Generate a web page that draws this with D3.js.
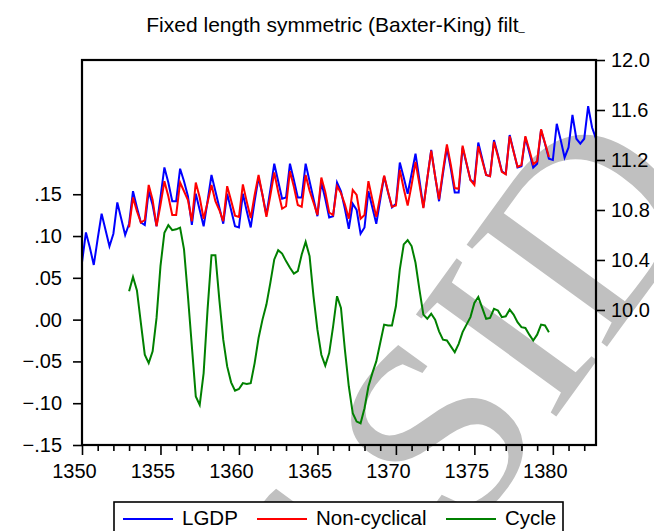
<!DOCTYPE html>
<html><head><meta charset="utf-8">
<script src="https://cdn.jsdelivr.net/npm/d3@7"></script>
<style>
body{margin:0;background:#fff}
svg text{font-family:"Liberation Sans",Arial,Helvetica,sans-serif}
</style>
</head><body>
<svg id="chart" width="654" height="531"></svg>
<script>
// ---------- data ----------
const firstYear = 1350;          // first observation 1350Q1
const periodsPerYear = 4;        // quarterly
const filterStartIndex = 12;     // filtered series start at 1353Q1
const titleText = "Fixed length symmetric (Baxter-King) filt";
const seriesNames = ["LGDP", "Non-cyclical", "Cycle"];

const lgdp = [
 10.38,10.62,10.50,10.36, 10.57,10.77,10.64,10.51, 10.61,10.86,10.73,10.60,
 10.69,10.95,10.82,10.70, 10.68,10.95,10.84,10.67, 10.90,11.14,11.02,10.87,
 10.87,11.13,11.03,10.91, 10.68,10.93,10.80,10.67, 10.87,11.08,10.95,10.82,
 10.69,10.93,10.80,10.67, 10.66,10.93,10.79,10.66, 10.87,11.06,10.92,10.76,
 10.96,11.17,11.03,10.89, 10.90,11.17,11.04,10.90, 10.90,11.17,11.03,10.89,
 10.75,11.02,10.89,10.74, 10.75,11.02,10.95,10.81, 10.65,10.85,10.80,10.61,
 10.66,10.95,10.82,10.69, 10.88,11.07,10.94,10.82, 10.85,11.18,11.06,10.93,
 11.09,11.25,11.04,10.82, 11.05,11.28,11.07,10.87, 11.09,11.30,11.13,10.94,
 10.94,11.30,11.17,11.04, 11.02,11.34,11.21,11.08, 11.07,11.36,11.24,11.11,
 11.09,11.40,11.27,11.14, 11.15,11.38,11.26,11.14, 11.17,11.44,11.33,11.21,
 11.20,11.49,11.36,11.22, 11.30,11.56,11.37,11.33, 11.37,11.63,11.46,11.37
];

const nonCyclical = [
 10.66,10.90,10.79,10.70, 10.72,11.00,10.88,10.67, 10.84,11.03,10.91,10.76,
 10.76,11.02,10.95,10.88, 10.71,11.02,10.90,10.73, 10.86,11.00,10.87,10.80,
 10.71,10.99,10.875,10.755, 10.745,11.005,10.865,10.735, 10.92,11.08,10.92,10.745,
 10.915,11.10,10.945,10.81, 10.83,11.11,10.985,10.84, 10.825,11.08,10.955,10.86,
 10.76,11.06,10.945,10.78, 10.76,10.99,10.935,10.845, 10.73,10.96,10.92,10.73,
 10.76,11.03,10.885,10.745, 10.91,11.075,10.945,10.825, 10.835,11.12,10.97,10.835,
 11.00,11.185,11.005,10.815, 11.05,11.275,11.07,10.885, 11.115,11.325,11.16,10.975,
 10.97,11.315,11.175,11.04, 11.00,11.31,11.195,11.08, 11.07,11.345,11.23,11.105,
 11.085,11.39,11.265,11.145, 11.16,11.39,11.28,11.165, 11.19,11.445,11.335,11.225
];

const cycle = [
 0.034,0.051,0.035,-0.004, -0.042,-0.052,-0.038,0.002, 0.064,0.104,0.113,0.107,
 0.108,0.110,0.084,0.028, -0.032,-0.092,-0.102,-0.064, 0.012,0.077,0.077,0.024,
 -0.024,-0.056,-0.075,-0.085, -0.083,-0.076,-0.077,-0.076, -0.052,-0.022,0.000,0.018,
 0.044,0.072,0.083,0.079, 0.070,0.062,0.055,0.058, 0.078,0.093,0.076,0.028,
 -0.012,-0.042,-0.055,-0.040, -0.008,0.028,0.014,-0.036, -0.080,-0.112,-0.122,-0.124,
 -0.106,-0.080,-0.064,-0.050, -0.028,-0.006,-0.007,-0.007, 0.016,0.060,0.090,0.095,
 0.088,0.068,0.036,0.006, 0.001,0.007,0.000,-0.014, -0.024,-0.025,-0.032,-0.039,
 -0.029,-0.015,-0.006,0.003, 0.020,0.027,0.014,0.001, 0.002,0.013,0.011,0.003,
 0.004,0.012,0.006,-0.003, -0.009,-0.010,-0.018,-0.025, -0.018,-0.006,-0.007,-0.015
];

const xMajorTicks = [1350, 1355, 1360, 1365, 1370, 1375, 1380];
const xMinorTicks = [1351,1352,1353,1354,1356,1357,1358,1359,1361,1362,1363,1364,
                     1366,1367,1368,1369,1371,1372,1373,1374,1376,1377,1378,1379,1381,1382];
const leftTicks  = [-0.15, -0.10, -0.05, 0.00, 0.05, 0.10, 0.15];
const rightTicks = [10.0, 10.4, 10.8, 11.2, 11.6, 12.0];

// periods (time index of each quarterly observation)
const periods = lgdp.map((_, i) => firstYear + i / periodsPerYear);

// ---------- layout ----------
const svg = d3.select("#chart");
const L = 82, R = 596, T = 60, B = 445;
const fontSize = 20;

const x  = d3.scaleLinear().domain([periods[0], periods[periods.length - 1]]).range([L, R]);
const yL = d3.scaleLinear().domain([-0.15, 0.3106]).range([B, T]);
const yR = d3.scaleLinear().domain([8.9195, 12.0]).range([B, T]);

svg.append("rect").attr("width", 654).attr("height", 531).attr("fill", "#fff");

// watermark (behind the graph)
svg.append("text")
  .attr("transform", "translate(715,198) rotate(-54)")
  .attr("text-anchor", "end")
  .style("font-family", "'Liberation Serif','Times New Roman',serif")
  .attr("font-size", 265)
  .attr("fill", "#c0c0c0")
  .text("f SID");

// title
const title = svg.append("text")
  .attr("x", 335.5).attr("y", 32)
  .attr("text-anchor", "middle")
  .attr("font-size", 21)
  .attr("fill", "#000")
  .text(titleText);
title.append("tspan").attr("font-size", 11).attr("dy", -1).text("_");

// lines
const fmtLeft = v => d3.format(".2f")(v).replace("0.", ".");
const lineR = (offset) => d3.line().x((d, i) => x(periods[i + offset])).y(d => yR(d));
const lineL = (offset) => d3.line().x((d, i) => x(periods[i + offset])).y(d => yL(d));

svg.append("path").datum(lgdp).attr("d", lineR(0))
  .attr("fill", "none").attr("stroke", "#0000ff").attr("stroke-width", 2);
svg.append("path").datum(nonCyclical).attr("d", lineR(filterStartIndex))
  .attr("fill", "none").attr("stroke", "#ff0000").attr("stroke-width", 2);
svg.append("path").datum(cycle).attr("d", lineL(filterStartIndex))
  .attr("fill", "none").attr("stroke", "#008000").attr("stroke-width", 2);

// frame
svg.append("rect").attr("x", L).attr("y", T).attr("width", R - L).attr("height", B - T)
  .attr("fill", "none").attr("stroke", "#000").attr("stroke-width", 2.2);

// left axis
const leftAxis = svg.append("g").attr("transform", `translate(${L},0)`)
  .call(d3.axisLeft(yL).tickValues(leftTicks).tickSize(9).tickPadding(11).tickFormat(fmtLeft));
// right axis
const rightAxis = svg.append("g").attr("transform", `translate(${R},0)`)
  .call(d3.axisRight(yR).tickValues(rightTicks).tickSize(9).tickPadding(6).tickFormat(d3.format(".1f")));
// bottom axis: minor + major ticks
const bottomMinor = svg.append("g").attr("transform", `translate(0,${B})`)
  .call(d3.axisBottom(x).tickValues(xMinorTicks).tickSize(6).tickFormat(""));
const bottomMajor = svg.append("g").attr("transform", `translate(0,${B})`)
  .call(d3.axisBottom(x).tickValues(xMajorTicks).tickSize(10).tickPadding(5).tickFormat(d3.format("d")));

[leftAxis, rightAxis, bottomMinor, bottomMajor].forEach(g => {
  g.select(".domain").remove();
  g.selectAll(".tick line").attr("stroke", "#000").attr("stroke-width", 1.6);
  g.selectAll(".tick text").attr("font-size", fontSize).attr("fill", "#000")
    .style("font-family", "'Liberation Sans',Arial,sans-serif");
});
bottomMajor.selectAll(".tick text").attr("dx", -8).attr("dy", "0.9em");

// legend
const lg = svg.append("g");
lg.append("rect").attr("x", 114).attr("y", 502).attr("width", 449).attr("height", 45)
  .attr("fill", "#fff").attr("stroke", "#000").attr("stroke-width", 1.6);
const legendColors = ["#0000ff", "#ff0000", "#008000"];
const legendX = [123, 257, 446];
seriesNames.forEach((name, k) => {
  lg.append("line").attr("x1", legendX[k]).attr("x2", legendX[k] + 50)
    .attr("y1", 519).attr("y2", 519).attr("stroke", legendColors[k]).attr("stroke-width", 2);
  lg.append("text").attr("x", legendX[k] + 59).attr("y", 525)
    .attr("font-size", 20.5).attr("fill", "#000").text(name);
});
</script>
</body></html>
